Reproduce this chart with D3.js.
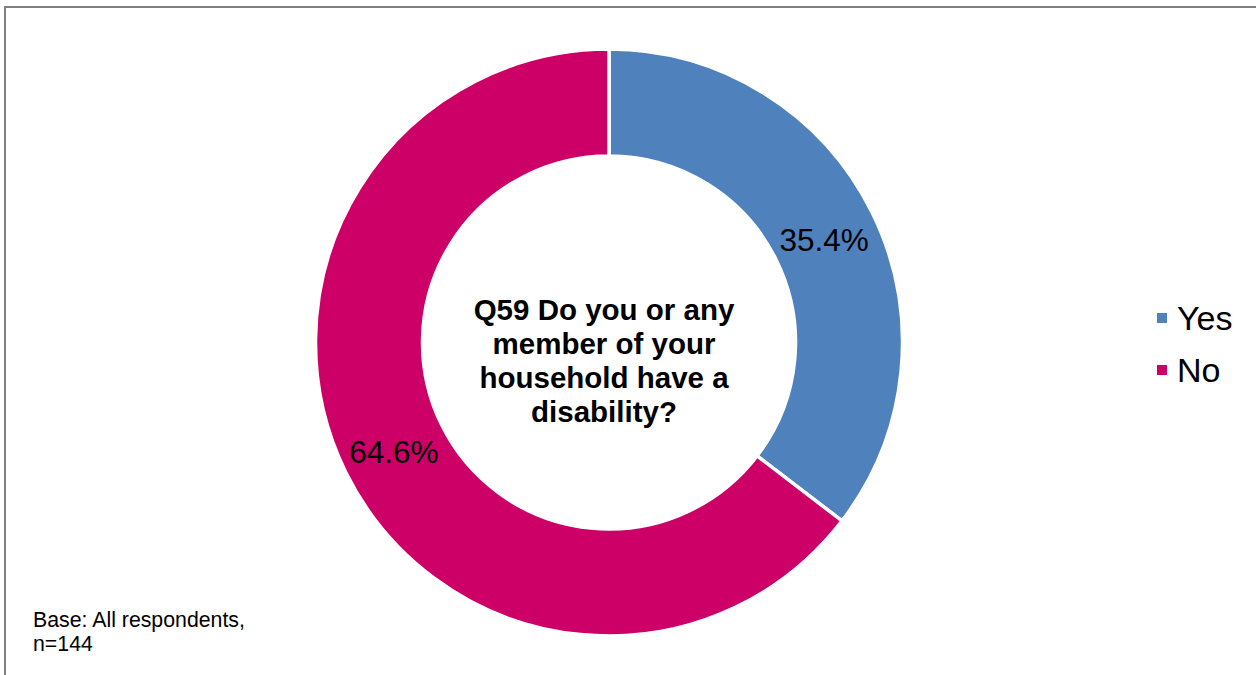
<!DOCTYPE html>
<html>
<head>
<meta charset="utf-8">
<script src="https://cdn.jsdelivr.net/npm/d3@7"></script>
<style>
  html, body { margin: 0; padding: 0; background: #fff; }
  svg { display: block; font-family: Arial, "Liberation Sans", sans-serif; }
</style>
</head>
<body>
<svg id="chart" width="1256" height="675"></svg>
<script>
// Survey answers: share of respondents (%)
const categories = ["Yes", "No"];
const values = [35.4, 64.6];
const colors = ["#4F81BD", "#CC0066"];
const titleLines = ["Q59 Do you or any", "member of your", "household have a", "disability?"];
const baseNote = ["Base: All respondents,", "n=144"];

const svg = d3.select("#chart");
const W = 1256, H = 675;

// chart frame (extends past the right and bottom edges)
svg.append("rect")
  .attr("x", 5).attr("y", 7)
  .attr("width", W + 40).attr("height", H + 40)
  .attr("fill", "none")
  .attr("stroke", "#808080")
  .attr("stroke-width", 2);

const cx = 609, cy = 342.5;
const outerR = 293.5, innerR = 186.5;

const data = categories.map((c, i) => ({ cat: c, value: values[i] }));

const pie = d3.pie().value(d => d.value).sort(null);
const arc = d3.arc().innerRadius(innerR).outerRadius(outerR);
const labelArc = d3.arc().innerRadius(innerR).outerRadius(outerR);

const color = d3.scaleOrdinal().domain(categories).range(colors);

const g = svg.append("g").attr("transform", `translate(${cx},${cy})`);
const arcs = pie(data);

g.selectAll("path.slice")
  .data(arcs)
  .join("path")
  .attr("class", "slice")
  .attr("d", arc)
  .attr("fill", d => color(d.data.cat))
  .attr("stroke", "#fff")
  .attr("stroke-width", 3.5)
  .attr("stroke-linejoin", "miter");

// value labels at the middle of each ring segment
g.selectAll("text.val")
  .data(arcs)
  .join("text")
  .attr("class", "val")
  .attr("transform", d => {
    const [x, y] = labelArc.centroid(d);
    return `translate(${x},${y + 3})`;
  })
  .attr("text-anchor", "middle")
  .attr("dy", "0.36em")
  .attr("font-size", 31.5)
  .attr("fill", "#000")
  .text(d => d.data.value.toFixed(1) + "%");

// question text in the hole
const lineH = 34;
g.append("text")
  .attr("text-anchor", "middle")
  .attr("font-size", 29.5)
  .attr("font-weight", "bold")
  .attr("fill", "#000")
  .selectAll("tspan")
  .data(titleLines)
  .join("tspan")
  .attr("x", -5)
  .attr("y", (d, i) => (i - (titleLines.length - 1) / 2) * lineH + 28)
  .text(d => d);

// legend
const legend = svg.append("g").attr("transform", "translate(1157,318)");
const items = legend.selectAll("g")
  .data(categories)
  .join("g")
  .attr("transform", (d, i) => `translate(0,${i * 52})`);
items.append("rect")
  .attr("x", 0).attr("y", -5)
  .attr("width", 10).attr("height", 10)
  .attr("fill", d => color(d));
items.append("text")
  .attr("x", 20)
  .attr("y", 0)
  .attr("dy", "0.36em")
  .attr("font-size", 34)
  .attr("fill", "#000")
  .text(d => d);

// base note
svg.append("text")
  .attr("font-size", 21.3)
  .attr("fill", "#000")
  .selectAll("tspan")
  .data(baseNote)
  .join("tspan")
  .attr("x", 33)
  .attr("y", (d, i) => 627 + i * 23.5)
  .text(d => d);
</script>
</body>
</html>
